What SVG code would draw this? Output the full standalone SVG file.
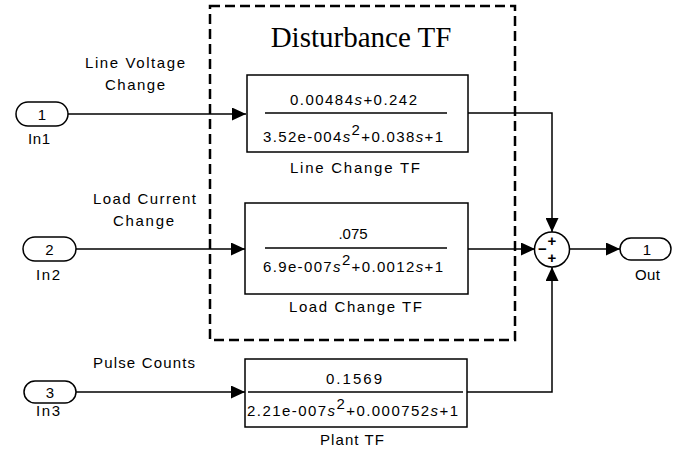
<svg xmlns="http://www.w3.org/2000/svg" width="684" height="452" viewBox="0 0 684 452">
<defs>
<style>
.lbl{font-family:"Liberation Sans","DejaVu Sans",sans-serif;font-size:15px;fill:#000;text-anchor:middle}
.tf{font-family:"Liberation Sans","DejaVu Sans",sans-serif;font-size:15px;fill:#000;text-anchor:middle}
.title{font-family:"Liberation Serif","Times New Roman",serif;font-size:29px;fill:#000;text-anchor:middle}
.blk{fill:#fff;stroke:#000;stroke-width:1.5}
.port{fill:#fff;stroke:#000;stroke-width:1.5}
.wire{fill:none;stroke:#000;stroke-width:1.5}
.frac{stroke:#000;stroke-width:1.5}
.sign{font-family:"Liberation Sans","DejaVu Sans",sans-serif;font-size:15px;font-weight:bold;fill:#000;text-anchor:middle}
</style>
<marker id="arr" viewBox="0 0 14 13" refX="14" refY="6.5" markerWidth="14" markerHeight="13" markerUnits="userSpaceOnUse" orient="auto">
<path d="M0,0 L14,6.5 L0,13 Z" fill="#000"/>
</marker>
</defs>
<rect x="0" y="0" width="684" height="452" fill="#fff"/>

<g id="disturbance">
<rect x="210" y="6" width="305" height="334" fill="none" stroke="#000" stroke-width="2.5" stroke-dasharray="10 5"/>
<text class="title" x="361" y="47">Disturbance TF</text>
</g>

<g id="connectors">
<path class="wire" d="M68,114 H246" marker-end="url(#arr)"/>
<path class="wire" d="M468,113 H552 V232" marker-end="url(#arr)"/>
<path class="wire" d="M76,249 H245" marker-end="url(#arr)"/>
<path class="wire" d="M468,249 H535" marker-end="url(#arr)"/>
<path class="wire" d="M76,392 H245" marker-end="url(#arr)"/>
<path class="wire" d="M467,392 H552 V267" marker-end="url(#arr)"/>
<path class="wire" d="M570,249 H620" marker-end="url(#arr)"/>
<text class="lbl" x="135" y="68" textLength="100">Line Voltage</text>
<text class="lbl" x="135" y="90" textLength="60">Change</text>
<text class="lbl" x="144.5" y="204" textLength="103">Load Current</text>
<text class="lbl" x="143.5" y="226" textLength="61">Change</text>
<text class="lbl" x="144" y="368" textLength="102">Pulse Counts</text>
</g>

<g id="in1">
<rect class="port" x="16" y="102" width="52" height="24" rx="12"/>
<text class="lbl" x="42" y="119.5">1</text>
<text class="lbl" x="39" y="144" textLength="22">In1</text>
</g>

<g id="in2">
<rect class="port" x="23" y="237" width="53" height="24" rx="12"/>
<text class="lbl" x="49.5" y="254.5">2</text>
<text class="lbl" x="48" y="280" textLength="24">In2</text>
</g>

<g id="in3">
<rect class="port" x="24" y="381" width="52" height="22" rx="11"/>
<text class="lbl" x="50" y="397.5">3</text>
<text class="lbl" x="48" y="416" textLength="24">In3</text>
</g>

<g id="line-change-tf">
<rect class="blk" x="247" y="75" width="221" height="77"/>
<text class="tf" x="353.5" y="105" textLength="127">0.00484<tspan font-style="italic">s</tspan>+0.242</text>
<line class="frac" x1="265" y1="113" x2="447" y2="113"/>
<text class="tf" x="353" y="142" textLength="180">3.52e-004<tspan font-style="italic">s</tspan><tspan dy="-7">2</tspan><tspan dy="7">+0.038</tspan><tspan font-style="italic">s</tspan>+1</text>
<text class="lbl" x="355" y="173" textLength="130">Line Change TF</text>
</g>

<g id="load-change-tf">
<rect class="blk" x="245" y="203" width="223" height="91"/>
<text class="tf" x="353" y="239" textLength="29">.075</text>
<line class="frac" x1="265" y1="248" x2="447" y2="248"/>
<text class="tf" x="353" y="272" textLength="180">6.9e-007<tspan font-style="italic">s</tspan><tspan dy="-7">2</tspan><tspan dy="7">+0.0012</tspan><tspan font-style="italic">s</tspan>+1</text>
<text class="lbl" x="355.5" y="312" textLength="133">Load Change TF</text>
</g>

<g id="plant-tf">
<rect class="blk" x="245" y="359" width="222" height="68"/>
<text class="tf" x="354" y="384" textLength="56">0.1569</text>
<line class="frac" x1="248" y1="392" x2="463" y2="392"/>
<text class="tf" x="352.5" y="416" textLength="211">2.21e-007<tspan font-style="italic">s</tspan><tspan dy="-7">2</tspan><tspan dy="7">+0.000752</tspan><tspan font-style="italic">s</tspan>+1</text>
<text class="lbl" x="352" y="445" textLength="64">Plant TF</text>
</g>

<g id="sum">
<circle cx="552" cy="249.5" r="17.5" fill="#fff" stroke="#000" stroke-width="1.5"/>
<text class="sign" x="552" y="246">+</text>
<text class="sign" x="542.5" y="254">−</text>
<text class="sign" x="552" y="263">+</text>
</g>

<g id="out1">
<rect class="port" x="620" y="238" width="51" height="22" rx="11"/>
<text class="lbl" x="647" y="254.5">1</text>
<text class="lbl" x="647.5" y="280" textLength="25">Out</text>
</g>
</svg>
